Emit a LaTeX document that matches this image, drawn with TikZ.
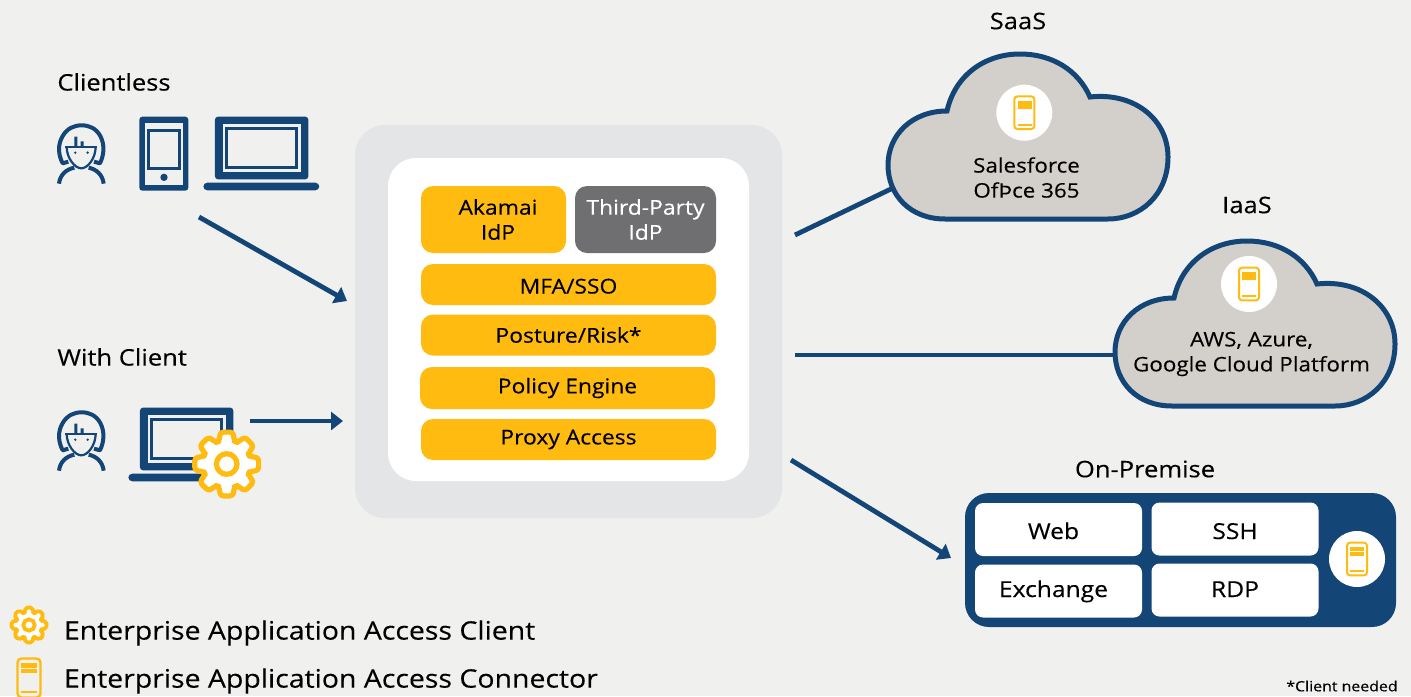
\documentclass[tikz,border=0pt]{standalone}
\usepackage{fontspec}
\setmainfont[FakeStretch=1.12,FakeBold=0.25]{Open Sans}
\usetikzlibrary{arrows.meta}
\definecolor{navy}{HTML}{144577}
\definecolor{gold}{HTML}{FFBB0F}
\definecolor{slate}{HTML}{6F6F72}
\definecolor{paper}{HTML}{F0F0EF}
\definecolor{hubgrey}{HTML}{E4E5E7}
\definecolor{cloudgrey}{HTML}{D3D0CB}
\newcommand{\geartrace}[2]{%
  (-19:#1) \foreach \a in {0,45,...,315}{ -- (\a-19:#1) -- (\a-11:#2) -- (\a+11:#2) -- (\a+19:#1) } -- cycle}
\tikzset{
  zoomed/.style={x=1pt/6,y=-1pt/6},
  wire/.style={navy,line width=2.4pt},
  flow/.style={wire,-{Triangle[length=6pt,width=9pt]}},
  goldbox/.style={fill=gold,rounded corners=6pt,inner sep=0pt,align=center,font=\fontsize{10.2}{12.5}\selectfont,text=black},
  whitebox/.style={fill=white,rounded corners=4pt,minimum width=83.5pt,minimum height=26.5pt,inner sep=0pt,font=\fontsize{11}{13}\selectfont,text=black},
  disc/.style={circle,fill=white,minimum size=28pt,inner sep=0pt},
  label/.style={inner sep=0pt,text=black,font=\fontsize{11.4}{14}\selectfont},
  cloudtext/.style={inner sep=0pt,align=center,text=black,font=\fontsize{10}{12.5}\selectfont},
  person/.pic={
    \begin{scope}[zoomed]
      \draw[navy,line width=2pt,line join=round] (85,185) -- (68,190) .. controls (55,165) and (52,135) .. (68,108) .. controls (82,85) and (102,76) .. (125,76) .. controls (148,76) and (168,85) .. (181,108) .. controls (195,135) and (192,165) .. (180,190) -- (162,185);
      \draw[navy,line width=1.1pt,line join=round] (76,140) -- (170,140);
      \draw[navy,line width=1.1pt] (80,140) .. controls (80,175) and (105,205) .. (124,205) .. controls (143,205) and (167,175) .. (167,140);
      \fill[navy] (103,110) rectangle (112,140) (122,124) rectangle (131,140);
      \fill[navy] (106,158) circle (4) (143,158) circle (4);
      \draw[navy,line width=2pt] (57,251) .. controls (60,225) and (78,208) .. (103,203);
      \draw[navy,line width=2pt] (191,251) .. controls (188,225) and (170,208) .. (146,203);
    \end{scope}},
  tablet/.pic={
    \begin{scope}[zoomed]
      \fill[navy,rounded corners=1.5pt] (298,50) rectangle (445,272);
      \fill[paper] (316,68) rectangle (428,254);
      \draw[navy,line width=1.3pt] (326,91) rectangle (418,206);
      \fill[navy] (372,232) circle (11);
    \end{scope}},
  laptop/.pic={
    \begin{scope}[zoomed]
      \fill[navy,rounded corners=1.5pt] (525,50) rectangle (805,238);
      \fill[paper] (548,72) rectangle (782,215);
      \draw[navy,line width=1.3pt] (560,85) rectangle (770,203);
      \fill[navy,rounded corners=2pt] (490,248) rectangle (838,271);
    \end{scope}},
  cloudshape/.pic={
    \draw[navy,fill=cloudgrey,line width=2.5pt,line join=miter]
      (947,111) .. controls (955,75) and (985,54) .. (1020,54)
      .. controls (1052,54) and (1078,70) .. (1090,97)
      .. controls (1135,92) and (1168,120) .. (1168,157)
      .. controls (1168,195) and (1140,219) .. (1108,219)
      -- (945,219) .. controls (910,219) and (888,195) .. (888,165)
      .. controls (888,135) and (912,111) .. (947,111) -- cycle;},
  serverone/.pic={
    \draw[gold,line width=1pt,rounded corners=1.5pt] (-10,-16.3) rectangle (10,16.3);
    \fill[gold] (-6.6,-12) rectangle (7.3,-4);
    \fill[gold] (-6.6,11.2) rectangle (7.3,12.8);},
  servertwo/.pic={
    \draw[gold,line width=1pt,rounded corners=1.5pt] (-10,-16.3) rectangle (10,16.3);
    \fill[gold] (-7,-12.5) rectangle (7,-8.5);
    \fill[gold] (-7,-7) rectangle (7,-3);
    \fill[gold] (-7,11) rectangle (7,12.6);},
  serverbig/.pic={
    \draw[gold,line width=1.2pt,rounded corners=2pt] (-11.5,-19.5) rectangle (11.5,19.5);
    \fill[gold] (-8,-15) rectangle (8,-10.5);
    \fill[gold] (-8,-9.5) rectangle (8,-4.7);
    \fill[gold] (-8,13) rectangle (8,14.6);},
}
\begin{document}
\begin{tikzpicture}[x=.5pt,y=-.5pt]
  \fill[paper] (0,0) rectangle (1411,696);
  \useasboundingbox (0,0) rectangle (1411,696);

  % coordinates for free connector ends
  \coordinate (clientlessEnd) at (199,217);
  \coordinate (clientlessTip) at (347,301);
  \coordinate (clientEnd) at (250,421);
  \coordinate (clientTip) at (343,421);
  \coordinate (saasHub) at (795,235);
  \coordinate (saasEdge) at (893,188);
  \coordinate (iaasHub) at (795,355);
  \coordinate (iaasEdge) at (1116,355);
  \coordinate (premHub) at (791,460);
  \coordinate (premTip) at (951,558);

  % connectors
  \draw[flow] (clientlessEnd) -- (clientlessTip);
  \draw[flow] (clientEnd) -- (clientTip);
  \draw[wire] (saasHub) -- (saasEdge);
  \draw[wire] (iaasHub) -- (iaasEdge);
  \draw[flow] (premHub) -- (premTip);

  % left icons
  \node[label,anchor=west] (clientless) at (57,82) {Clientless};
  \node[label,anchor=west] (withclient) at (57,357) {With Client};
  \pic at (40,100) {person};
  \pic at (40,100) {tablet};
  \pic at (40,100) {laptop};
  \pic at (40,387) {person};
  \pic at (-35,391) {laptop};
  \begin{scope}[shift={(226.7,464)}]
    \draw[gold,fill=white,line width=2.6pt,line join=round,rounded corners=1.5pt] \geartrace{24}{32.5};
    \draw[gold,line width=2.6pt] (0,0) circle (10.3);
  \end{scope}

  % centre panel
  \node[fill=hubgrey,rounded corners=15pt,minimum width=213.5pt,minimum height=196.5pt,inner sep=0pt] (hub) at (568.5,321.5) {};
  \node[fill=white,rounded corners=14pt,minimum width=180.5pt,minimum height=161.5pt,inner sep=0pt] (panel) at (568.5,319.5) {};
  \node[goldbox,minimum width=72.5pt,minimum height=33.5pt] (akamai) at (493.5,219.5) {\hspace*{4.5pt}Akamai\\\hspace*{4.5pt}IdP};
  \node[goldbox,fill=slate,text=white,minimum width=70.5pt,minimum height=33.5pt] (third) at (645.5,219.5) {Third-Party\\IdP};
  \node[goldbox,minimum width=147.5pt,minimum height=20.5pt,text height=9pt,text depth=0pt] (mfa) at (568.5,284.5) {MFA/SSO};
  \node[goldbox,minimum width=147.5pt,minimum height=20.5pt] (posture) at (568.5,335) {Posture/Risk*};
  \node[goldbox,minimum width=147.5pt,minimum height=21pt] (policy) at (567.5,388) {Policy Engine};
  \node[goldbox,minimum width=147.5pt,minimum height=20.5pt] (proxy) at (568.5,439.5) {Proxy Access};

  % clouds
  \pic at (0,0) {cloudshape};
  \pic at (227,187) {cloudshape};
  \node[label] (saas) at (1018,21) {SaaS};
  \node[label] (iaas) at (1247,205) {IaaS};
  \node[disc] (saasdisc) at (1024.3,112.7) {};
  \pic at (1024.3,112.7) {serverone};
  \node[disc] (iaasdisc) at (1249,284) {};
  \pic at (1249,284) {serverone};
  \node[cloudtext] (saastext) at (1026.5,177.5) {Salesforce\\OfÞce 365};
  \node[cloudtext] (iaastext) at (1251.5,354) {AWS, Azure,\\Google Cloud Platform};

  % on-premise
  \node[label] (prem) at (1145,469) {On-Premise};
  \node[fill=navy,rounded corners=12pt,minimum width=215.5pt,minimum height=67pt,inner sep=0pt] (onprem) at (1180.5,560) {};
  \node[whitebox,text height=10pt,text depth=.5pt] (web) at (1058.5,529.5) {\hspace{-5pt}Web};
  \node[whitebox,text height=10.5pt,text depth=.5pt] (ssh) at (1235,529) {SSH};
  \node[whitebox,text height=8pt,text depth=2pt] (exchange) at (1058.5,591) {\hspace{-5pt}Exchange};
  \node[whitebox,text height=8.5pt,text depth=1.5pt] (rdp) at (1235,590) {RDP};
  \node[disc] (premdisc) at (1357,559) {};
  \pic at (1357,559) {servertwo};

  % legend
  \begin{scope}[shift={(29,625)},scale=.55]
    \draw[gold,fill=white,line width=1.9pt,line join=round,rounded corners=1pt] \geartrace{24}{32.5};
    \draw[gold,line width=1.9pt] (0,0) circle (10.3);
  \end{scope}
  \pic at (29,678) {serverbig};
  \node[label,anchor=west,font=\fontsize{12.7}{15}\selectfont] (legendA) at (63.5,633) {Enterprise Application Access Client};
  \node[label,anchor=west,font=\fontsize{12.7}{15}\selectfont] (legendB) at (63.5,681) {Enterprise Application Access Connector};
  \node[label,anchor=east,font=\fontsize{7.1}{9}\selectfont] (note) at (1398,686) {*Client needed};
\end{tikzpicture}
\end{document}
